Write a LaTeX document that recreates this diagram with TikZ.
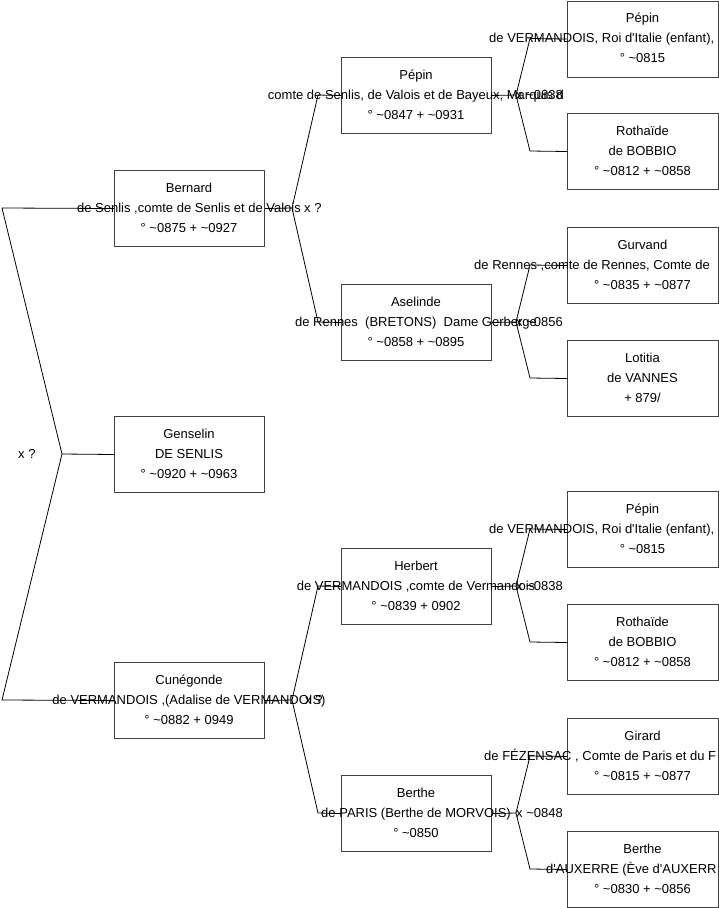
\documentclass[tikz,border=0pt]{standalone}
\usepackage{fontspec}
\setmainfont{Liberation Sans}[Ligatures=TeXOff]
\newcommand\famtext[6]{%
  \node[txt] (#1-a) at (#2,#3-16) {#4};
  \node[txt] (#1-b) at (#2,#3+4) {#5};
  \node[txt] (#1-c) at (#2,#3+24) {#6};}
\newcommand\famtextw[7]{%
  \node[txt] (#1-a) at (#2,#3-16) {#4};
  \node[wtxt] (#1-b) at (#5,#3+4) {#6};
  \node[txt] (#1-c) at (#2,#3+24) {#7};}
\begin{document}
\begin{tikzpicture}[x=1pt,y=-1pt,
  box/.style={draw=black!75, line width=1pt, fill=white, minimum width=150pt, minimum height=76pt, inner sep=0pt, anchor=north west},
  box3/.style={box, minimum width=151pt},
  txt/.style={font=\fontsize{13}{20}\selectfont, inner sep=0pt, anchor=base},
  wtxt/.style={txt, anchor=base west},
  link/.style={draw=black, line width=0.8pt}]
\useasboundingbox (0,0) rectangle (719,908);
\fill[white] (0,0) rectangle (719,908);
\clip (0,0) rectangle (719,908);

% generation 1
\node[box] (bernard) at (114,170) {};
\node[box] (genselin) at (114,416) {};
\node[box] (cunegonde) at (114,662) {};
% generation 2
\node[box] (pepin) at (341,57) {};
\node[box] (aselinde) at (341,284) {};
\node[box] (herbert) at (341,548) {};
\node[box] (berthe) at (341,775) {};
% generation 3
\node[box3] (pepinA) at (567,0.5) {};
\node[box3] (rothA) at (567,113) {};
\node[box3] (gurvand) at (567,227) {};
\node[box3] (lotitia) at (567,340) {};
\node[box3] (pepinB) at (567,491) {};
\node[box3] (rothB) at (567,604) {};
\node[box3] (girard) at (567,718) {};
\node[box3] (bertheB) at (567,831) {};

% texts
\famtext{tbernard}{189}{208}{Bernard}{de Senlis ,comte de Senlis et de Valois}{° \char`\~0875 + \char`\~0927}
\famtext{tgenselin}{189}{454}{Genselin}{DE SENLIS}{° \char`\~0920 + \char`\~0963}
\famtext{tcunegonde}{189}{700}{Cunégonde}{de VERMANDOIS ,(Adalise de VERMANDOIS)}{° \char`\~0882 + 0949}

\famtext{tpepin}{416}{95}{Pépin}{comte de Senlis, de Valois et de Bayeux, Marquis d}{° \char`\~0847 + \char`\~0931}
\famtext{taselinde}{416}{322}{Aselinde}{de Rennes\ \ (BRETONS)\ \ Dame Gerberge}{° \char`\~0858 + \char`\~0895}
\famtext{therbert}{416}{586}{Herbert}{de VERMANDOIS ,comte de Vermandois}{° \char`\~0839 + 0902}
\famtext{tberthe}{416}{813}{Berthe}{de PARIS (Berthe de MORVOIS)}{° \char`\~0850}

\famtextw{tpepinA}{642.5}{38.5}{Pépin}{489}{de VERMANDOIS, Roi d'Italie (enfant),}{° \char`\~0815}
\famtext{trothA}{642.5}{151}{Rothaïde}{de BOBBIO}{° \char`\~0812 + \char`\~0858}
\famtextw{tgurvand}{642.5}{265}{Gurvand}{474}{de Rennes ,comte de Rennes, Comte de}{° \char`\~0835 + \char`\~0877}
\famtext{tlotitia}{642.5}{378}{Lotitia}{de VANNES}{+ 879/}
\famtextw{tpepinB}{642.5}{529}{Pépin}{489}{de VERMANDOIS, Roi d'Italie (enfant),}{° \char`\~0815}
\famtext{trothB}{642.5}{642}{Rothaïde}{de BOBBIO}{° \char`\~0812 + \char`\~0858}
\famtextw{tgirard}{642.5}{756}{Girard}{484}{de FÉZENSAC , Comte de Paris et du F}{° \char`\~0815 + \char`\~0877}
\famtextw{tbertheB}{642.5}{869}{Berthe}{546}{d'AUXERRE (Ève d'AUXERR}{° \char`\~0830 + \char`\~0856}

% marriage labels
\node[wtxt] (m0) at (18,458) {x ?};
\node[wtxt] (m1) at (304,212) {x ?};
\node[wtxt] (m2) at (305,704) {x ?};
\node[wtxt] (m3) at (516,99) {x \char`\~0838};
\node[wtxt] (m4) at (516,326) {x \char`\~0856};
\node[wtxt] (m5) at (516,590) {x \char`\~0838};
\node[wtxt] (m6) at (516,817) {x \char`\~0848};

% fork coordinates
\coordinate (f0) at (62,454);
\coordinate (f0a) at (2,208);
\coordinate (f0b) at (2,700);
\coordinate (f1) at (292,208);
\coordinate (f1a) at (318,95);
\coordinate (f1b) at (318,322);
\coordinate (f2) at (292,700);
\coordinate (f2a) at (318,586);
\coordinate (f2b) at (318,813);
\coordinate (g1) at (516,95);
\coordinate (g1a) at (530,38.5);
\coordinate (g1b) at (530,151);
\coordinate (g2) at (516,322);
\coordinate (g2a) at (530,265);
\coordinate (g2b) at (530,378);
\coordinate (g3) at (516,586);
\coordinate (g3a) at (530,529);
\coordinate (g3b) at (530,642);
\coordinate (g4) at (516,813);
\coordinate (g4a) at (530,756);
\coordinate (g4b) at (530,869);

% connectors
\draw[link] (bernard.west) -- (f0a) -- (f0) -- (f0b) -- (cunegonde.west);
\draw[link] (f0) -- (genselin.west);
\draw[link] (pepin.west) -- (f1a) -- (f1) -- (f1b) -- (aselinde.west);
\draw[link] (f1) -- (bernard.east);
\draw[link] (herbert.west) -- (f2a) -- (f2) -- (f2b) -- (berthe.west);
\draw[link] (f2) -- (cunegonde.east);
\draw[link] (pepinA.west) -- (g1a) -- (g1) -- (g1b) -- (rothA.west);
\draw[link] (g1) -- (pepin.east);
\draw[link] (gurvand.west) -- (g2a) -- (g2) -- (g2b) -- (lotitia.west);
\draw[link] (g2) -- (aselinde.east);
\draw[link] (pepinB.west) -- (g3a) -- (g3) -- (g3b) -- (rothB.west);
\draw[link] (g3) -- (herbert.east);
\draw[link] (girard.west) -- (g4a) -- (g4) -- (g4b) -- (bertheB.west);
\draw[link] (g4) -- (berthe.east);
\end{tikzpicture}
\end{document}
